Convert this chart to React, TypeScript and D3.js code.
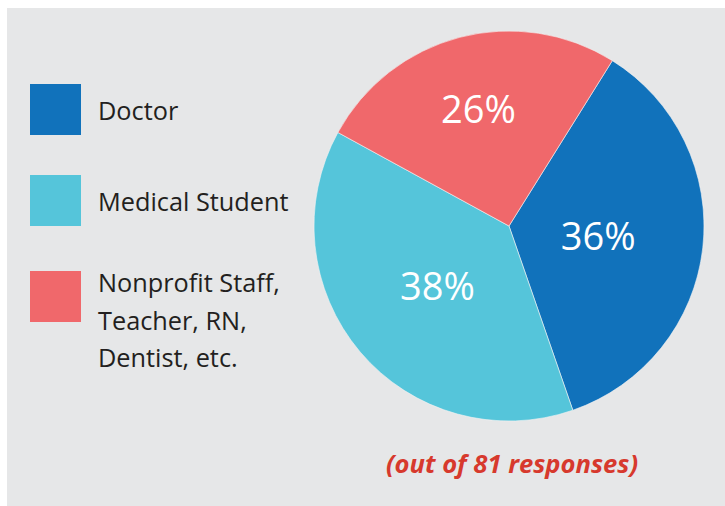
import React from "react";
import * as d3 from "d3";

const categories = ["Doctor", "Medical Student", "Nonprofit Staff, Teacher, RN, Dentist, etc."];
const legendLines = [["Doctor"], ["Medical Student"], ["Nonprofit Staff,", "Teacher, RN,", "Dentist, etc."]];
const responses = [29, 31, 21]; // out of 81 -> 36%, 38%, 26%
const colors = ["#1172bb", "#55c5da", "#f0686b"];
const footnote = "(out of 81 responses)";

// layout
const W = 725;
const H = 506;
const cx = 509;
const cy = 226;
const R = 195;
const startDeg = 32;
const labelRadiusFactor = [0.46, 0.48, 0.62];
const legendTop = [84, 175, 271];

export default function App() {
  const total = d3.sum(responses);
  const pie = d3
    .pie<number>()
    .sort(null)
    .value((d) => d)
    .startAngle((startDeg * Math.PI) / 180)
    .endAngle(((startDeg + 360) * Math.PI) / 180);
  const arcs = pie(responses);
  const arc = d3.arc<d3.PieArcDatum<number>>().innerRadius(0).outerRadius(R);

  return (
    <div style={{ position: "absolute", left: 0, top: 0 }}>
      <svg width={W} height={H} style={{ display: "block", background: "#fff" }}>
        <rect x={7} y={8} width={W - 7} height={H - 8} fill="#e6e7e8" />
        <g transform={`translate(${cx},${cy})`}>
          {arcs.map((a, i) => (
            <path key={i} d={arc(a) || ""} fill={colors[i]} stroke="#f4f4f4" strokeWidth={0.6} />
          ))}
          {arcs.map((a, i) => {
            const lr = R * labelRadiusFactor[i];
            const [x, y] = d3.arc<d3.PieArcDatum<number>>().innerRadius(lr).outerRadius(lr).centroid(a);
            return (
              <text
                key={i}
                x={x}
                y={y}
                dy="0.36em"
                textAnchor="middle"
                fill="#fff"
                fontFamily="'Open Sans', 'Noto Sans', sans-serif"
                fontSize={38}
              >
                {Math.round((a.data / total) * 100)}%
              </text>
            );
          })}
        </g>
        {categories.map((c, i) => {
          const y0 = legendTop[i];
          return (
            <g key={c}>
              <rect x={30} y={y0} width={51} height={51} fill={colors[i]} />
              {legendLines[i].map((line, j) => (
                <text
                  key={j}
                  x={98}
                  y={y0 + 36 + (legendLines[i].length > 1 ? -15 : 0) + j * 37.5}
                  fill="#231f20"
                  fontFamily="'Open Sans', 'Noto Sans', sans-serif"
                  fontSize={25.3}
                >
                  {line}
                </text>
              ))}
            </g>
          );
        })}
        <text
          x={512}
          y={473}
          textAnchor="middle"
          fill="#d7392d"
          fontFamily="'Open Sans', 'Noto Sans', sans-serif"
          fontWeight="bold"
          fontStyle="italic"
          fontSize={25.6}
        >
          {footnote}
        </text>
      </svg>
    </div>
  );
}
